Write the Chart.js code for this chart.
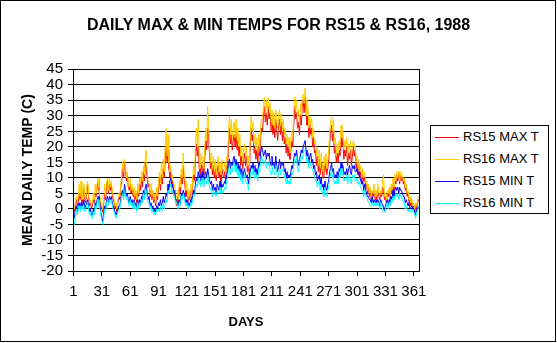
<!DOCTYPE html>
<html>
<head>
<meta charset="utf-8">
<title>Daily max &amp; min temps, RS15 &amp; RS16</title>
<script src="https://cdn.jsdelivr.net/npm/chart.js@4.4.0/dist/chart.umd.min.js"></script>
<style>
  body { margin: 0; background: #fff; }
  #wrap { position: relative; width: 557px; height: 343px; font-family: Arial, "Liberation Sans", sans-serif; }
  #title { position: absolute; left: 0; top: 15px; width: 557px; height: 20px; line-height: 20px; text-align: center; font-size: 16px; font-weight: bold; color: #000; }
  #frame { position: absolute; left: 0; top: 0; width: 556px; height: 342px; border: 1px solid #000; box-sizing: border-box; pointer-events: none; }
  #legend { position: absolute; left: 430px; top: 125px; width: 119px; height: 89px; border: 1px solid #000; box-sizing: border-box; background: #fff; }
  .item { position: absolute; left: 4px; height: 16px; line-height: 16px; font-size: 13px; color: #000; white-space: nowrap; }
  .swatch { display: inline-block; width: 24px; height: 1px; vertical-align: middle; margin-right: 4px; }
</style>
</head>
<body>
<div id="wrap">
  <canvas id="tempChart" width="557" height="343"></canvas>
  <div id="title">DAILY MAX &amp; MIN TEMPS FOR RS15 &amp; RS16, 1988</div>
  <div id="legend"></div>
  <div id="frame"></div>
</div>
<script>
// day numbers on the x axis (1988 is a leap year)
const days = Array.from({ length: 366 }, (_, i) => i + 1);
const dayTicks = [1, 31, 61, 91, 121, 151, 181, 211, 241, 271, 301, 331, 361];
const tempTicks = [-20, -15, -10, -5, 0, 5, 10, 15, 20, 25, 30, 35, 40, 45];

const rs15Max = [
  0,-1,1,3,1,2,5,3,6,2, 4,7,3,2,5,8,4,1,2,0, 1,3,2,5,4,7,9,6,3,1,
  0,-1,2,5,3,7,9,5,8,6, 8,5,3,2,0,1,-1,2,4,3, 7,9,13,10,15,12,9,11,7,6,
  8,5,7,4,6,3,5,2,6,4, 8,6,10,7,12,9,15,13,10,7, 8,4,6,3,5,2,4,1,5,3,
  7,10,6,11,8,13,10,16,20,15, 19,13,10,12,7,9,5,6,3,1, 4,2,7,5,11,8,14,10,7,4,
  6,2,4,3,6,3,7,11,9,16, 21,17,20,13,11,15,12,14,11,17, 22,19,26,23,17,13,15,11,14,10,
  13,9,12,14,10,12,9,13,11,10, 12,9,14,13,20,26,21,24,19,22, 24,20,25,19,22,17,20,14,17,13,
  16,18,14,17,12,14,11,20,26,22, 24,18,20,16,19,15,20,17,23,26, 25,30,33,28,31,27,33,29,31,25,
  29,24,27,23,29,26,22,27,29,24, 28,22,26,21,23,18,21,17,20,16, 19,22,20,27,33,29,31,26,28,24,
  30,27,33,35,31,36,32,27,30,23, 27,24,26,20,23,18,19,14,17,12, 16,11,15,13,10,14,12,15,11,13,
  16,21,25,27,22,25,18,20,15,18, 15,19,17,25,20,22,16,19,17,20, 14,18,16,19,14,17,20,17,19,13,
  15,11,14,10,12,8,11,9,10,7, 8,5,7,4,6,3,5,4,6,3, 5,3,6,4,3,5,4,7,6,3,
  4,2,5,4,6,3,7,5,8,6, 10,8,11,9,12,8,11,9,10,8, 9,6,7,4,5,2,3,1,2,0,
  1,-1,1,0,2,3
];

const rs16Max = [
  1,0,2,4,2,4,8,4,9,3, 5,8,4,3,7,9,5,2,3,1, 2,5,3,8,5,8,10,7,4,2,
  1,0,4,8,4,9,10,6,10,7, 9,6,4,3,1,2,0,3,5,4, 8,11,15,12,16,14,10,12,8,7,
  10,6,8,5,7,4,6,3,8,5, 10,8,12,9,14,11,17,19,12,9, 9,5,8,4,6,3,5,2,7,4,
  9,12,8,15,10,16,12,20,26,17, 24,15,12,14,9,11,7,8,5,2, 6,3,9,7,13,10,18,12,9,6,
  8,3,6,4,8,4,9,14,11,20, 26,20,29,16,13,18,14,17,13,21, 26,22,33,27,20,15,18,13,17,12,
  16,11,15,17,12,15,11,16,13,12, 15,11,17,16,25,30,24,29,22,26, 28,23,29,22,26,20,24,17,20,15,
  19,21,17,20,14,17,13,24,30,25, 28,21,24,19,23,18,24,20,27,29, 29,34,36,31,35,30,36,32,34,28,
  32,27,31,26,32,29,25,30,32,27, 31,25,29,24,26,21,24,20,23,18, 22,25,23,31,36,32,35,29,32,27,
  34,30,36,37,34,39,35,30,33,26, 30,27,29,23,26,21,22,17,20,14, 19,13,18,15,12,17,14,18,13,16,
  19,24,28,30,25,29,21,23,17,21, 18,22,20,27,23,25,19,22,20,23, 17,21,19,22,17,20,22,20,21,15,
  17,13,16,12,14,10,13,10,12,9, 9,6,8,5,7,4,6,5,8,4, 6,4,8,5,4,6,5,9,11,4,
  5,3,6,5,7,4,8,6,10,7, 11,9,12,10,12,9,12,10,11,9, 10,7,8,5,6,3,4,2,3,1,
  2,0,2,1,3,4
];

const rs15Min = [
  -1,-3,0,1,-1,1,2,0,2,1, 1,3,0,1,2,3,1,-1,0,-2, -2,0,-1,2,1,3,4,2,1,-1,
  -3,-4,-1,1,0,3,4,2,4,3, 4,2,1,0,-1,-2,-2,0,1,1, 3,5,6,4,8,6,4,5,3,2,
  4,2,3,1,3,1,2,0,3,1, 3,2,4,3,6,4,7,8,5,3, 4,1,2,0,1,-1,0,-1,1,0,
  2,1,3,1,2,4,2,3,5,4, 8,6,9,10,7,8,5,6,3,3, 2,1,3,2,5,4,6,5,3,2,
  3,1,2,1,3,2,4,6,5,8, 10,9,12,10,11,9,12,10,9,11, 12,10,13,11,9,8,9,6,8,6,
  7,5,8,7,6,9,6,8,7,8, 9,8,11,12,14,16,13,15,14,16, 17,14,16,13,15,12,14,11,13,10,
  12,13,11,10,11,8,10,12,14,13, 15,12,14,11,13,11,15,14,18,20, 19,17,18,19,16,18,17,18,15,14,
  17,14,15,13,17,14,12,14,16,13, 15,14,15,12,13,10,12,10,11,10, 12,14,13,16,18,17,19,15,14,16,
  17,19,18,20,21,22,19,17,18,15, 17,18,15,16,13,14,11,12,9,10, 11,8,10,7,8,6,9,7,6,8,
  9,12,13,15,12,13,10,11,10,12, 10,13,12,15,13,14,11,12,11,13, 11,13,14,12,11,14,13,14,12,12,
  13,11,12,10,9,8,9,6,8,6, 5,4,4,3,3,2,4,2,3,2, 3,2,3,2,1,3,2,1,1,-1,
  1,2,3,1,3,2,4,3,6,4, 6,7,6,7,5,7,6,6,5,4, 4,2,3,2,1,2,0,0,1,0,
  0,-1,-2,0,0,1
];

const rs16Min = [
  -3,-5,-2,0,-2,0,1,-1,1,0, 0,1,-1,0,1,2,0,-2,-1,-3, -3,-1,-2,1,0,2,3,1,0,-2,
  -4,-5,-3,0,-1,2,3,1,3,2, 3,1,0,-1,-2,-3,-3,-1,0,0, 2,4,5,3,6,5,3,4,2,1,
  3,1,2,0,2,0,1,-1,2,0, 2,1,3,2,5,3,6,6,4,2, 2,0,1,-1,0,-2,-1,-2,0,-1,
  0,-1,1,-1,0,2,0,1,3,2, 6,5,7,8,5,6,4,4,2,2, 1,0,2,1,4,3,5,4,2,1,
  2,0,1,0,2,1,3,4,4,6, 8,7,10,8,9,7,10,8,7,9, 10,8,11,9,7,6,7,4,6,5,
  5,4,6,5,5,7,5,6,5,6, 7,6,9,10,12,14,11,13,12,14, 15,12,14,11,13,10,12,9,11,8,
  10,11,9,8,9,6,8,10,12,11, 13,10,12,10,11,9,13,12,15,17, 16,14,15,16,13,15,14,15,12,11,
  14,12,12,11,14,12,10,11,13,11, 13,12,13,10,11,8,10,8,9,8, 10,12,11,14,16,15,17,13,12,14,
  15,17,16,18,19,19,17,15,16,13, 14,15,13,13,11,11,9,9,7,8, 9,6,8,5,6,4,7,5,4,6,
  7,10,11,13,10,11,8,9,8,10, 8,11,10,13,11,12,9,10,9,11, 8,10,11,9,8,11,10,11,9,9,
  10,8,9,8,7,6,6,4,6,4, 4,3,2,2,1,1,2,1,2,1, 2,1,2,1,0,2,1,0,-1,-1,
  0,1,2,0,2,1,3,2,4,3, 4,5,4,5,3,5,4,4,3,2, 2,0,1,0,-1,0,-1,-1,0,-1,
  -1,-2,-3,-1,-1,1
];

const fontFamily = 'Arial, "Liberation Sans", sans-serif';

// black frame round the plot area
const plotBorder = {
  id: 'plotBorder',
  afterDraw(chart) {
    const { ctx, chartArea } = chart;
    const l = Math.round(chartArea.left - 0.5) + 0.5;
    const r = Math.round(chartArea.right - 0.5) + 0.5;
    const t = Math.round(chartArea.top - 0.5) + 0.5;
    const b = Math.round(chartArea.bottom - 0.5) + 0.5;
    ctx.save();
    ctx.strokeStyle = '#000';
    ctx.lineWidth = 1;
    ctx.strokeRect(l, t, r - l, b - t);
    ctx.restore();
  }
};

const ctx = document.getElementById('tempChart').getContext('2d');
const tempChart = new Chart(ctx, {
  type: 'line',
  data: {
    labels: days,
    datasets: [
      { label: 'RS15 MAX T', data: rs15Max, borderColor: '#ff0000', order: 4 },
      { label: 'RS16 MAX T', data: rs16Max, borderColor: '#ffcc00', order: 3 },
      { label: 'RS15 MIN T', data: rs15Min, borderColor: '#0000ff', order: 2 },
      { label: 'RS16 MIN T', data: rs16Min, borderColor: '#00ffff', order: 1 }
    ]
  },
  options: {
    responsive: false,
    animation: false,
    devicePixelRatio: 1,
    layout: { padding: { left: 0, right: 138, top: 69.3, bottom: 0 } },
    elements: {
      point: { radius: 0 },
      line: { borderWidth: 1, tension: 0, fill: false }
    },
    plugins: {
      legend: { display: false },
      tooltip: { enabled: false },
      title: { display: false }
    },
    scales: {
      x: {
        type: 'linear',
        min: 0.5,
        max: 366.5,
        afterBuildTicks: axis => { axis.ticks = dayTicks.map(v => ({ value: v })); },
        afterFit: scale => { scale.height = 72; },
        ticks: { color: '#000', font: { family: fontFamily, size: 15 }, maxRotation: 0, autoSkip: false, padding: 7 },
        grid: { drawOnChartArea: false, color: '#000', tickLength: 5 },
        border: { color: '#000' },
        title: {
          display: true,
          text: 'DAYS',
          color: '#000',
          font: { family: fontFamily, size: 13, weight: 'bold' },
          padding: { top: 0, bottom: 12.7 }
        }
      },
      y: {
        min: tempTicks[0],
        max: tempTicks[tempTicks.length - 1],
        afterFit: scale => { scale.width = 73; },
        ticks: { stepSize: 5, autoSkip: false, color: '#000', font: { family: fontFamily, size: 15 }, padding: 5 },
        grid: { color: '#000', tickLength: 5 },
        border: { color: '#000' },
        title: {
          display: true,
          text: 'MEAN DAILY TEMP (C)',
          color: '#000',
          font: { family: fontFamily, size: 14, weight: 'bold' },
          padding: { top: 19.6, bottom: 0 }
        }
      }
    }
  },
  plugins: [plotBorder]
});

// boxed legend to the right of the plot
const legendBox = document.getElementById('legend');
tempChart.data.datasets.forEach((ds, i) => {
  const item = document.createElement('div');
  item.className = 'item';
  item.style.top = (3 + i * 22) + 'px';
  const swatch = document.createElement('span');
  swatch.className = 'swatch';
  swatch.style.background = ds.borderColor;
  item.appendChild(swatch);
  item.appendChild(document.createTextNode(ds.label));
  legendBox.appendChild(item);
});
</script>
</body>
</html>
